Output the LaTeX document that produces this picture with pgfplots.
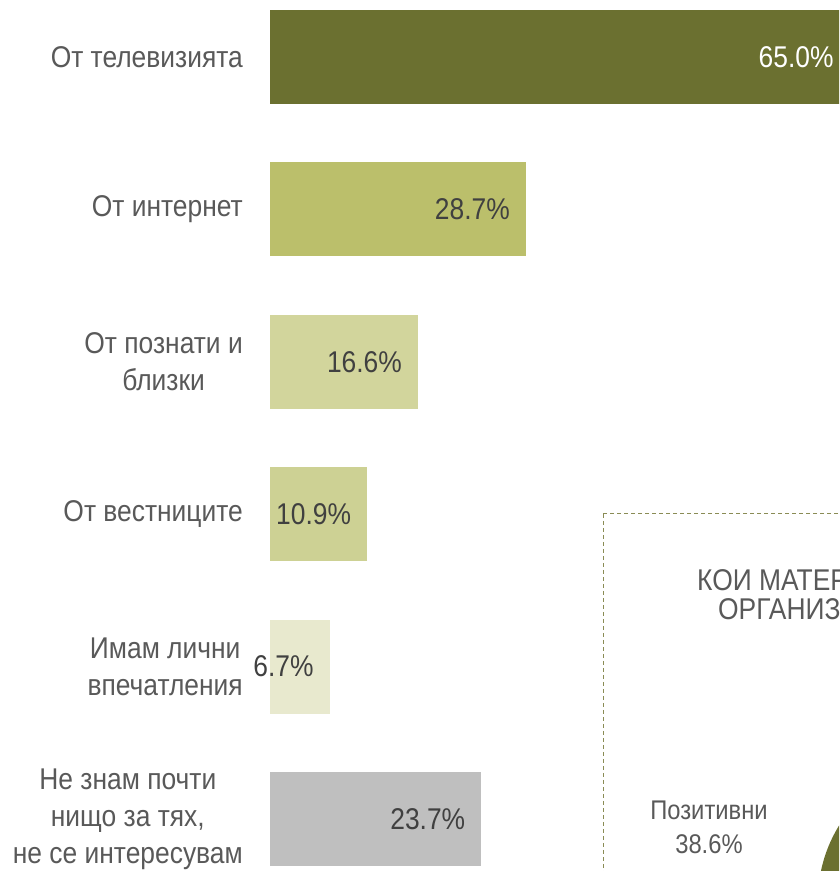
\documentclass[border=0pt]{standalone}
\usepackage{pgfplots}
\pgfplotsset{compat=1.18}
\usepackage{fontspec}
\setmainfont[FakeStretch=0.88]{Liberation Sans}
\definecolor{c1}{HTML}{6B7030}
\definecolor{c2}{HTML}{BBBF6B}
\definecolor{c3}{HTML}{D2D59C}
\definecolor{c4}{HTML}{CDD194}
\definecolor{c5}{HTML}{E8E9CE}
\definecolor{c6}{HTML}{BFBFBF}
\definecolor{lab}{HTML}{595959}
\definecolor{val}{HTML}{404040}
\definecolor{boxdash}{HTML}{8A8C55}
\begin{document}
\begin{tikzpicture}
\path[use as bounding box] (0,0) rectangle (839pt,871pt);
\clip (0,0) rectangle (839pt,871pt);
\begin{axis}[
  at={(270pt,890.2pt)}, anchor=north west,
  x=8.92pt, y=152.4pt, y dir=reverse,
  xmin=0, xmax=66, ymin=-0.5, ymax=5.5,
  xbar, bar width=94pt,
  axis line style={draw=none}, tick style={draw=none}, major tick length=0pt,
  xtick=\empty, ytick={0,...,5},
  yticklabels={От телевизията, От интернет, {От познати и\\близки}, От вестниците, {Имам лични\\впечатления}, {Не знам почти\\нищо за тях,\\не се интересувам}},
  yticklabel style={align=center, font=\fontsize{30}{37}\selectfont, text=lab, inner sep=0pt, xshift=-27pt},
  point meta=x,
  nodes near coords={\pgfmathprintnumber[fixed,fixed zerofill,precision=1,assume math mode=true]{\pgfplotspointmeta}\%},
  every node near coord/.append style={anchor=east, xshift=-16pt, font=\fontsize{30}{37}\selectfont, text=val, inner sep=0pt},
  clip=false,
]
\addplot[fill=c1, draw=none, bar shift=0pt, every node near coord/.append style={text=white}] coordinates {(65.0,0)};
\addplot[fill=c2, draw=none, bar shift=0pt] coordinates {(28.7,1)};
\addplot[fill=c3, draw=none, bar shift=0pt] coordinates {(16.6,2)};
\addplot[fill=c4, draw=none, bar shift=0pt] coordinates {(10.9,3)};
\addplot[fill=c5, draw=none, bar shift=0pt] coordinates {(6.7,4)};
\addplot[fill=c6, draw=none, bar shift=0pt] coordinates {(23.7,5)};
\end{axis}
\draw[boxdash, line width=1pt, dash pattern=on 4pt off 3pt] (603pt,357pt) rectangle (900pt,-20pt);
\node[anchor=west, font=\fontsize{30}{37}\selectfont, text=lab, inner sep=0pt] at (697pt,291pt) {КОИ МАТЕРИАЛИ};
\node[anchor=west, font=\fontsize{30}{37}\selectfont, text=lab, inner sep=0pt] at (718pt,259pt) {ОРГАНИЗАЦИИ};
\node[align=center, font=\fontsize{27}{34}\selectfont, text=lab, inner sep=0pt] at (709pt,44pt) {Позитивни\\38.6\%};
\fill[c1] (960pt,-29pt) circle (142pt);
\end{tikzpicture}
\end{document}
